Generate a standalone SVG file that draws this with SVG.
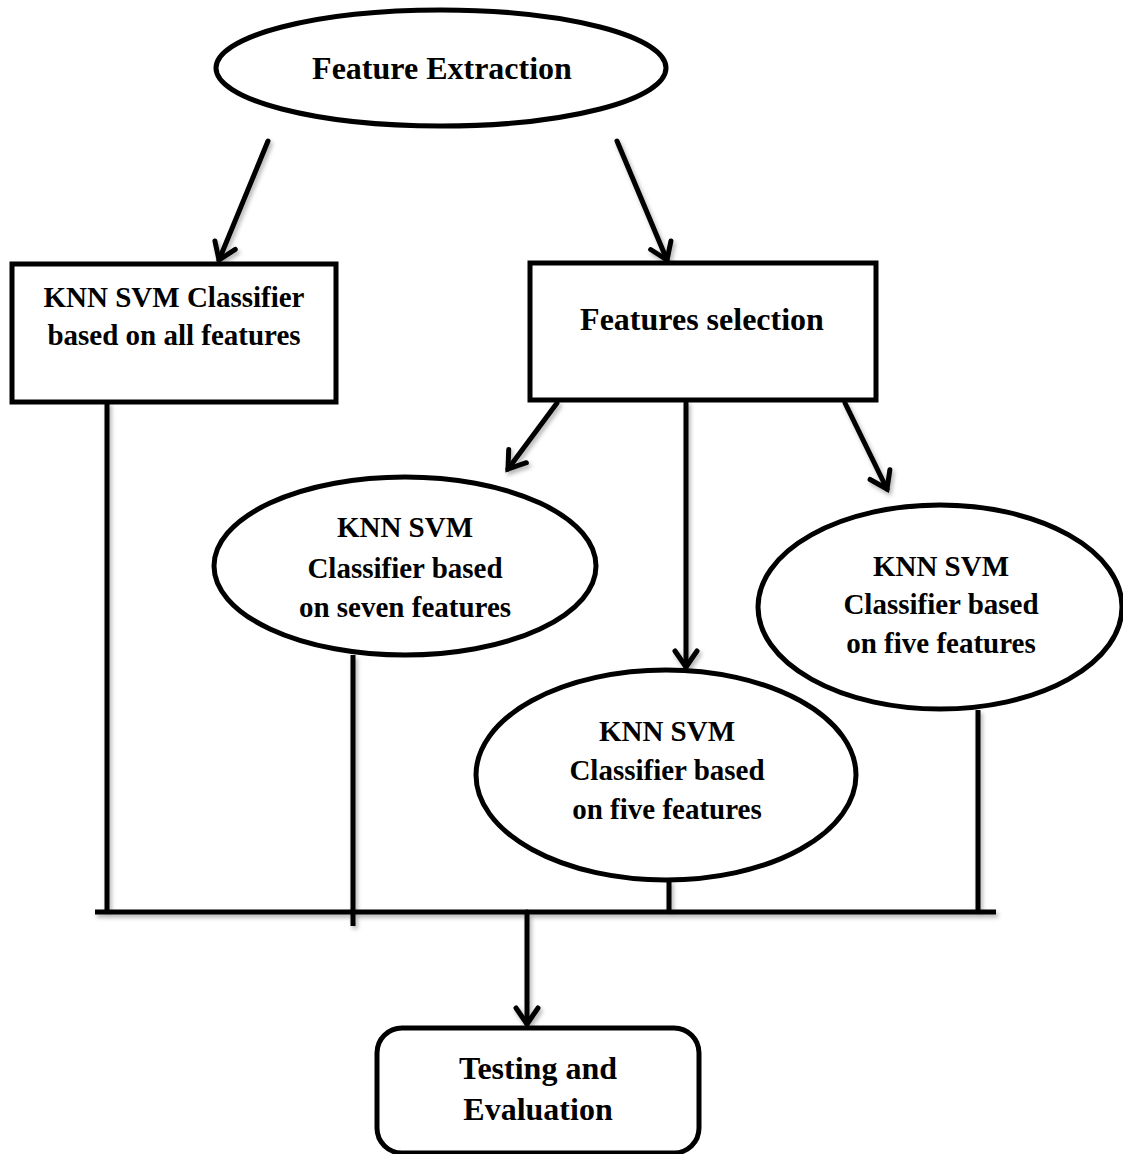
<svg xmlns="http://www.w3.org/2000/svg" width="1123" height="1154" viewBox="0 0 1123 1154">
<style>
.shape{fill:#fff;stroke:#000;stroke-width:5}
.ln{fill:none;stroke:#000;stroke-width:5;stroke-linecap:round}
.bus{fill:none;stroke:#000;stroke-width:5}
</style>
<defs>
<filter id="sh" x="-20%" y="-20%" width="140%" height="140%">
<feDropShadow dx="2" dy="3" stdDeviation="2" flood-color="#000" flood-opacity="0.3"/>
</filter>
<marker id="arr" markerUnits="userSpaceOnUse" markerWidth="40" markerHeight="40" refX="20" refY="20" orient="auto" viewBox="0 0 40 40">
<path d="M4,9 L20,20 L4,31" fill="none" stroke="#000" stroke-width="5" stroke-linecap="round" stroke-linejoin="miter"/>
</marker>
</defs>
<g id="connectors" filter="url(#sh)">
<line class="ln" x1="268" y1="141" x2="219" y2="260" marker-end="url(#arr)"/>
<line class="ln" x1="617" y1="141" x2="667" y2="260" marker-end="url(#arr)"/>
<line class="ln" x1="557" y1="403" x2="508" y2="469" marker-end="url(#arr)"/>
<line class="ln" x1="686" y1="403" x2="686" y2="667" marker-end="url(#arr)"/>
<line class="ln" x1="845" y1="403" x2="887" y2="489" marker-end="url(#arr)"/>
<line class="bus" x1="107" y1="402" x2="107" y2="912"/>
<line class="bus" x1="353" y1="655" x2="353" y2="926"/>
<line class="bus" x1="669" y1="880" x2="669" y2="912"/>
<line class="bus" x1="978" y1="710" x2="978" y2="912"/>
<line class="bus" x1="95" y1="912" x2="996" y2="912"/>
<line class="ln" x1="527" y1="912" x2="527" y2="1024" marker-end="url(#arr)"/>
</g>
<g id="feature-extraction">
<ellipse class="shape" cx="441" cy="68" rx="225" ry="58"/>
<text font-family="Liberation Serif" font-weight="bold" font-size="32" text-anchor="middle" x="442" y="79">Feature Extraction</text>
</g>
<g id="knn-all">
<rect class="shape" x="12" y="264" width="324" height="138"/>
<text font-family="Liberation Serif" font-weight="bold" font-size="29" text-anchor="middle" x="174" y="307">KNN SVM Classifier</text>
<text font-family="Liberation Serif" font-weight="bold" font-size="29" text-anchor="middle" x="174" y="345">based on all features</text>
</g>
<g id="features-selection">
<rect class="shape" x="530" y="263" width="346" height="137"/>
<text font-family="Liberation Serif" font-weight="bold" font-size="32" text-anchor="middle" x="702" y="330">Features selection</text>
</g>
<g id="knn-seven">
<ellipse class="shape" cx="405" cy="566" rx="191" ry="89"/>
<text font-family="Liberation Serif" font-weight="bold" font-size="29" text-anchor="middle" x="405" y="537">KNN SVM</text>
<text font-family="Liberation Serif" font-weight="bold" font-size="29" text-anchor="middle" x="405" y="578">Classifier based</text>
<text font-family="Liberation Serif" font-weight="bold" font-size="29" text-anchor="middle" x="405" y="617">on seven features</text>
</g>
<g id="knn-five-right">
<ellipse class="shape" cx="940" cy="607" rx="182" ry="102"/>
<text font-family="Liberation Serif" font-weight="bold" font-size="29" text-anchor="middle" x="941" y="576">KNN SVM</text>
<text font-family="Liberation Serif" font-weight="bold" font-size="29" text-anchor="middle" x="941" y="614">Classifier based</text>
<text font-family="Liberation Serif" font-weight="bold" font-size="29" text-anchor="middle" x="941" y="653">on five features</text>
</g>
<g id="knn-five-middle">
<ellipse class="shape" cx="666" cy="775" rx="190" ry="105"/>
<text font-family="Liberation Serif" font-weight="bold" font-size="29" text-anchor="middle" x="667" y="741">KNN SVM</text>
<text font-family="Liberation Serif" font-weight="bold" font-size="29" text-anchor="middle" x="667" y="780">Classifier based</text>
<text font-family="Liberation Serif" font-weight="bold" font-size="29" text-anchor="middle" x="667" y="819">on five features</text>
</g>
<g id="testing">
<rect class="shape" x="377" y="1028" width="322" height="125" rx="25" ry="25"/>
<text font-family="Liberation Serif" font-weight="bold" font-size="32" text-anchor="middle" x="538" y="1079">Testing and</text>
<text font-family="Liberation Serif" font-weight="bold" font-size="32" text-anchor="middle" x="538" y="1120">Evaluation</text>
</g>
</svg>
